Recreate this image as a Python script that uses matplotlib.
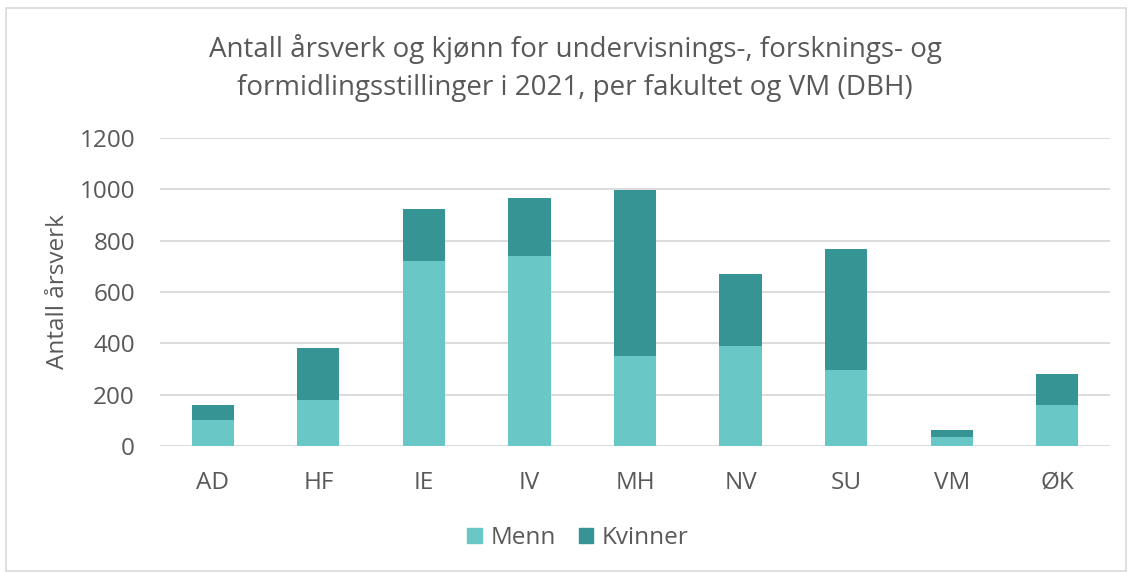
import matplotlib
matplotlib.use("Agg")
import matplotlib.pyplot as plt
from matplotlib.patches import Rectangle, Patch

categories = ["AD", "HF", "IE", "IV", "MH", "NV", "SU", "VM", "ØK"]
menn = [100, 178, 722, 741, 350, 389, 297, 36, 159]
kvinner = [61, 203, 200, 226, 647, 283, 470, 28, 121]
yticks = [0, 200, 400, 600, 800, 1000, 1200]

title_lines = ["Antall årsverk og kjønn for undervisnings-, forsknings- og",
               "formidlingsstillinger i 2021, per fakultet og VM (DBH)"]

plt.rcParams['font.family'] = ['Open Sans', 'DejaVu Sans']
text_color = "#595959"
c_menn = "#69C8C6"
c_kvinner = "#369494"
fs = 17.5

W, H = 1132, 572
fig = plt.figure(figsize=(W / 100, H / 100), dpi=100)
ax = fig.add_axes([160 / W, 1 - 446 / H, (1110 - 160) / W, (446 - 138) / H])

x = list(range(len(categories)))
ax.bar(x, menn, width=0.4, color=c_menn, label="Menn", zorder=3)
ax.bar(x, kvinner, width=0.4, bottom=menn, color=c_kvinner, label="Kvinner", zorder=3)

ax.set_xlim(-0.5, len(categories) - 0.5)
ax.set_ylim(0, 1200)
ax.set_yticks(yticks)
ax.set_yticklabels([str(v) for v in yticks])
ax.set_xticks(x)
ax.set_xticklabels(categories)
ax.grid(axis="y", color="#D9D9D9", linewidth=1.3, zorder=0)
for s in ax.spines.values():
    s.set_visible(False)
ax.tick_params(axis="both", length=0, labelsize=fs, colors=text_color)
ax.tick_params(axis="y", pad=18)
ax.tick_params(axis="x", pad=18)

fig.text(58 / W, 1 - 292 / H, "Antall årsverk", rotation=90, ha="center", va="center",
         fontsize=fs, color=text_color)

fig.text(575 / W, 1 - 57.5 / H, title_lines[0], ha="center", va="baseline",
         fontsize=20, color=text_color)
fig.text(575 / W, 1 - 95 / H, title_lines[1], ha="center", va="baseline",
         fontsize=20, color=text_color)

handles = [Patch(color=c_menn, label="Menn"), Patch(color=c_kvinner, label="Kvinner")]
fig.legend(handles=handles, loc="center", bbox_to_anchor=(578 / W, 1 - 538 / H),
           ncol=2, frameon=False, fontsize=fs, labelcolor=text_color,
           handlelength=0.6, handleheight=0.6, handletextpad=0.35, columnspacing=0.95)

fig.patches.append(Rectangle((6 / W, 1 / H), 1120 / W, 563 / H, transform=fig.transFigure,
                             fill=False, edgecolor="#D9D9D9", linewidth=1.2))

fig.savefig("out.png", dpi=100)
